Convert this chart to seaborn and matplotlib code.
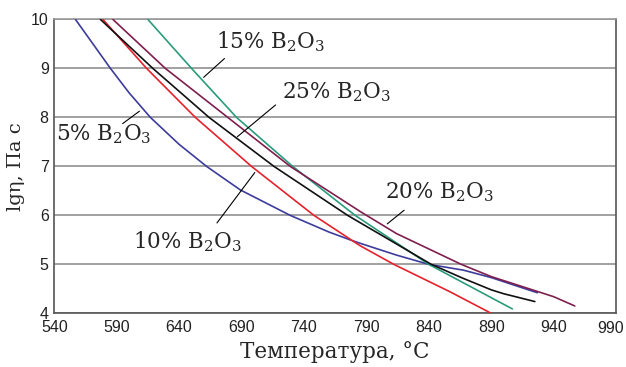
import matplotlib
matplotlib.use("Agg")
import matplotlib.pyplot as plt
import seaborn as sns
import pandas as pd

# --- data ---
t5 = [557, 585, 600, 617, 640, 662, 689, 729, 760, 777, 785, 814, 840, 868, 890, 921, 927]
v5 = [10, 9, 8.5, 8, 7.45, 7, 6.52, 6, 5.66, 5.5, 5.43, 5.19, 5.0, 4.88, 4.73, 4.47, 4.42]
t10 = [579, 614, 653, 698, 748, 785, 812, 857, 890]
v10 = [10, 9, 8, 7, 6, 5.38, 5.0, 4.44, 4.0]
t15 = [615, 650, 686, 731, 781, 840, 865, 890, 907]
v15 = [10, 9, 8, 7, 6, 5.0, 4.66, 4.32, 4.09]
t20 = [587, 629, 679, 729, 785, 814, 866, 890, 940, 957]
v20 = [10, 9, 8, 7, 6.08, 5.63, 5.0, 4.75, 4.34, 4.15]
t25 = [577, 619, 664, 716, 775, 842, 867, 890, 900, 925]
v25 = [10, 9, 8, 7, 6, 5.0, 4.72, 4.48, 4.4, 4.24]

series = ["5%", "10%", "15%", "20%", "25%"]
colors = ["#3c3c9c", "#e5222c", "#2a9c7c", "#7f1f4f", "#111111"]
xticks = list(range(540, 991, 50))
yticks = [4, 5, 6, 7, 8, 9, 10]

frames = []
for name, t, v in zip(series, [t5, t10, t15, t20, t25], [v5, v10, v15, v20, v25]):
    frames.append(pd.DataFrame({"T": t, "lg": v, "s": name}))
df = pd.concat(frames, ignore_index=True)

sns.set_theme(style="white")
plt.rcParams["font.family"] = ["DejaVu Serif"]
plt.rcParams["mathtext.fontset"] = "custom"
plt.rcParams["mathtext.rm"] = "DejaVu Serif"
plt.rcParams["mathtext.it"] = "DejaVu Serif"

fig = plt.figure(figsize=(6.26, 3.67), dpi=100)
ax = fig.add_axes([0.0867, 0.1463, 0.8973, 0.8007])

sns.lineplot(data=df, x="T", y="lg", hue="s", palette=dict(zip(series, colors)),
             sort=False, estimator=None, legend=False, lw=1.2, ax=ax, zorder=3)

ax.set_xlim(540, 990)
ax.set_ylim(4, 10)
ax.set_xticks(xticks)
ax.set_yticks(yticks)
tickfont = dict(family=["Liberation Sans Narrow", "Liberation Sans"], size=11.5)
xlabels = [str(x) for x in xticks]
ax.set_xticklabels(xlabels[:-1] + [""], fontdict=tickfont, color="#222222")
ax.set_yticklabels([str(y) for y in yticks], fontdict=tickfont, color="#222222")
# last x tick label nudged left so it stays inside the figure
ax.annotate(xlabels[-1], xy=(xticks[-1], 0), xycoords=("data", "axes fraction"),
            xytext=(-4, -5.5), textcoords="offset points", ha="center", va="top",
            color="#222222", fontfamily=tickfont["family"], fontsize=tickfont["size"],
            annotation_clip=False)
ax.grid(axis="y", color="#9a9a9a", lw=1.3, zorder=1)
ax.grid(axis="x", visible=False)
for side, sp in ax.spines.items():
    sp.set_color("#555555")
    sp.set_linewidth(1.2)
ax.spines["top"].set_color("#9a9a9a")
ax.tick_params(axis="x", direction="in", length=4, width=1, color="#555555", pad=5)
ax.tick_params(axis="y", length=0, pad=4)

ax.set_xlabel("Температура, °C", fontsize=15.5, labelpad=4)
ax.set_ylabel("lgη, Па с", fontsize=14, labelpad=4)

lab = r"% B$_2$O$_3$"
labels = [
    ("15" + lab, (713, 9.54), (658, 8.78), (678, 9.24)),
    ("25" + lab, (766, 8.52), (685, 7.57), (719, 8.29)),
    ("5" + lab, (580, 7.66), (593, 7.84), (610, 8.16)),
    ("10" + lab, (647, 5.47), (669, 5.80), (702, 6.92)),
    ("20" + lab, (849, 6.47), (805, 5.79), (822, 6.14)),
]
for text, pos, a, b in labels:
    ax.text(pos[0], pos[1], text, fontsize=15.5, ha="center", va="center", zorder=5)
    ax.annotate("", xy=a, xytext=b,
                arrowprops=dict(arrowstyle="-", color="black", lw=0.8), zorder=4)

fig.savefig("out.png", dpi=100)
